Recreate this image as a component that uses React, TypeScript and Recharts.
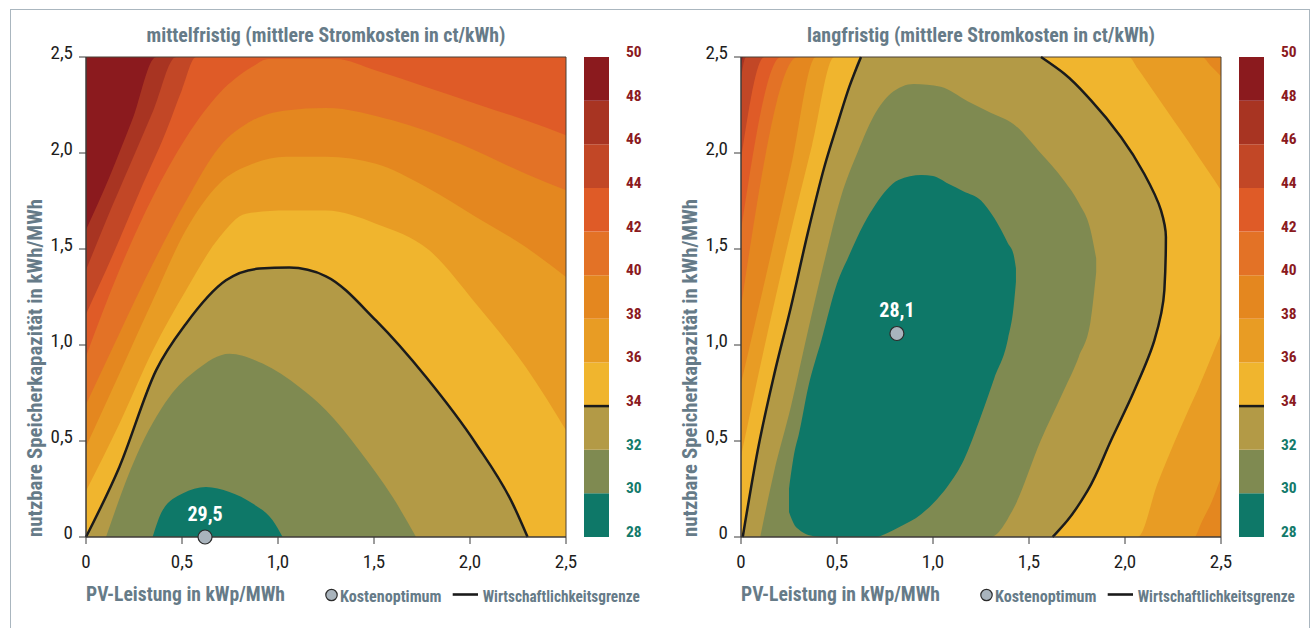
import React from "react";
import {
  ComposedChart,
  Area,
  Line,
  Scatter,
  XAxis,
  YAxis,
  ReferenceArea,
  BarChart,
  Bar,
  ReferenceLine,
} from "recharts";

const FONT = '"Liberation Sans Narrow", "Roboto Condensed", "DejaVu Sans Condensed", "Liberation Sans", sans-serif';
const LABEL = "#667b88";
const AXIS = "#3a3a3a";

// axis ticks (kWp/MWh and kWh/MWh)
const axisTicks = [0, 0.5, 1, 1.5, 2, 2.5];

// colour scale: lower bound of every 2 ct band and its colour
const bandLevels = [28, 30, 32, 34, 36, 38, 40, 42, 44, 46, 48];
const bandColors = [
  "#0e7868", "#7f8a51", "#b39a46", "#f0b52e", "#e89c24", "#e4871f",
  "#e37226", "#df5b27", "#c24726", "#a83422", "#8b1a1e",
];
const scaleTicks = [28, 30, 32, 34, 36, 38, 40, 42, 44, 46, 48, 50];
const limitLevel = 34;

// mittelfristig: upper edge of the area where cost < level  [x, y]
const mid50 = [[0, 2.5], [2.5, 2.5]];
const mid48 = [[0, 1.6], [0.12, 1.87], [0.24, 2.17], [0.365, 2.5], [2.5, 2.5]];
const mid46 = [[0, 1.39], [0.11, 1.66], [0.23, 1.94], [0.35, 2.22], [0.469, 2.5], [2.5, 2.5]];
const mid44 = [[0, 1.16], [0.14, 1.47], [0.28, 1.8], [0.42, 2.12], [0.5, 2.33], [0.573, 2.5], [2.5, 2.5]];
const mid42 = [[0, 0.94], [0.174, 1.39], [0.347, 1.77], [0.521, 2.08], [0.694, 2.31], [0.868, 2.45], [0.95, 2.49], [1.3, 2.49], [1.51, 2.43], [1.77, 2.344], [2.03, 2.257], [2.29, 2.17], [2.5, 2.092]];
const mid40 = [[0, 0.69], [0.174, 1.06], [0.347, 1.42], [0.521, 1.75], [0.694, 2.03], [0.868, 2.17], [1.042, 2.222], [1.25, 2.235], [1.597, 2.17], [1.944, 2.049], [2.29, 1.892], [2.5, 1.806]];
const mid38 = [[0, 0.47], [0.174, 0.85], [0.347, 1.23], [0.521, 1.6], [0.694, 1.84], [0.868, 1.944], [1.042, 1.98], [1.25, 1.98], [1.51, 1.944], [1.771, 1.823], [2.031, 1.667], [2.29, 1.51], [2.5, 1.354]];
const mid36 = [[0, 0.24], [0.174, 0.59], [0.347, 0.97], [0.521, 1.285], [0.694, 1.56], [0.833, 1.684], [1.042, 1.7], [1.25, 1.7], [1.51, 1.632], [1.788, 1.493], [2.031, 1.215], [2.29, 0.885], [2.5, 0.556]];
const mid34 = [[0, 0], [0.174, 0.365], [0.365, 0.868], [0.521, 1.111], [0.729, 1.337], [0.903, 1.398], [1.059, 1.403], [1.25, 1.358], [1.51, 1.128], [1.771, 0.833], [2.031, 0.486], [2.222, 0.174], [2.3, 0]];
const mid32 = [[0.104, 0], [0.26, 0.417], [0.434, 0.729], [0.573, 0.868], [0.747, 0.955], [0.92, 0.903], [1.111, 0.781], [1.25, 0.66], [1.424, 0.451], [1.597, 0.208], [1.719, 0]];
const mid30 = [[0.347, 0], [0.399, 0.139], [0.503, 0.226], [0.625, 0.26], [0.747, 0.234], [0.868, 0.174], [0.972, 0.087], [1.024, 0]];
const midOptimum = [{ x: 0.62, y: 0, label: "29,5" }];

// langfristig: area where cost < level  [x, low, high]
const long50 = [[0, 0, 2.5], [2.5, 0, 2.5]];
const long48 = [[0, 0, 2.45], [0.012, 0, 2.5], [2.5, 0, 2.5]];
const long46 = [[0, 0, 2.39], [0.026, 0, 2.5], [2.5, 0, 2.5]];
const long44 = [[0, 0, 1.97], [0.122, 0, 2.5], [2.5, 0, 2.5]];
const long42 = [[0, 0, 1.6], [0.208, 0, 2.5], [2.5, 0, 2.5]];
const long40 = [[0, 0, 1.2], [0.295, 0, 2.5], [2.5, 0, 2.5]];
const long38 = [[0, 0, 0.8], [0.13, 0, 1.36], [0.26, 0, 1.93], [0.39, 0, 2.5], [2.36, 0, 2.5], [2.4, 0.08, 2.5], [2.45, 0.18, 2.45], [2.5, 0.31, 2.4]];
const long36 = [[0, 0, 0.42], [0.12, 0, 0.98], [0.25, 0, 1.55], [0.37, 0, 2.04], [0.486, 0, 2.5], [2.02, 0, 2.5], [2.066, 0, 2.44], [2.17, 0.28, 2.29], [2.26, 0.5, 2.16], [2.33, 0.66, 2.06], [2.38, 0.77, 1.985], [2.465, 0.975, 1.86], [2.5, 1.06, 1.806]];
const long34 = [[0.009, 0, 0], [0.087, 0, 0.451], [0.174, 0, 0.851], [0.26, 0, 1.198], [0.347, 0, 1.58], [0.434, 0, 1.927], [0.503, 0, 2.153], [0.564, 0, 2.344], [0.625, 0, 2.5], [1.5625, 0, 2.5], [1.623, 0, 2.457], [1.684, 0.06, 2.413], [1.75, 0.16, 2.347], [1.823, 0.28, 2.274], [1.927, 0.503, 2.147], [2.049, 0.764, 1.97], [2.1, 0.87, 1.892], [2.153, 1.024, 1.78], [2.19, 1.17, 1.7], [2.205, 1.285, 1.63], [2.213, 1.42, 1.56]];
const long32 = [[0.1, 0, 0], [0.17, 0, 0.33], [0.26, 0, 0.68], [0.35, 0, 1.08], [0.43, 0, 1.42], [0.52, 0, 1.77], [0.61, 0, 2.01], [0.69, 0, 2.19], [0.78, 0, 2.31], [0.9, 0, 2.36], [1.04, 0, 2.345], [1.18, 0, 2.27], [1.3, 0, 2.21], [1.42, 0.15, 2.15], [1.56, 0.5, 2.0], [1.68, 0.76, 1.86], [1.76, 0.94, 1.74], [1.82, 1.12, 1.6], [1.85, 1.38, 1.45]];
const long30 = [[0.25, 0.13, 0.25], [0.28, 0.06, 0.45], [0.3, 0.04, 0.53], [0.35, 0.01, 0.78], [0.42, 0, 1.03], [0.5, 0, 1.32], [0.56, 0, 1.46], [0.64, 0, 1.63], [0.7, 0, 1.73], [0.76, 0.02, 1.81], [0.82, 0.05, 1.86], [0.94, 0.12, 1.885], [1.0, 0.175, 1.88], [1.08, 0.27, 1.84], [1.16, 0.4, 1.8], [1.25, 0.63, 1.753], [1.32, 0.83, 1.66], [1.39, 1.03, 1.53], [1.42, 1.2, 1.47], [1.432, 1.33, 1.4]];
const longLimitLeft = [[0.009, 0], [0.087, 0.451], [0.174, 0.851], [0.26, 1.198], [0.347, 1.58], [0.434, 1.927], [0.503, 2.153], [0.564, 2.344], [0.625, 2.5]];
const longLimitRight = [[1.5625, 2.5], [1.684, 2.413], [1.823, 2.274], [1.979, 2.083], [2.1, 1.892], [2.1875, 1.701], [2.213, 1.5625], [2.205, 1.285], [2.153, 1.024], [2.049, 0.764], [1.927, 0.503], [1.806, 0.243], [1.701, 0.087], [1.623, 0]];
const longOptimum = [{ x: 0.812, y: 1.06, label: "28,1" }];

const fmt = (v: number) => (v === 0 ? "0" : v.toFixed(1).replace(".", ","));
const colorOf = (level: number) => bandColors[(level - 30) / 2];

const toBand = (pts: number[][]) =>
  pts.map((p) => (p.length === 2 ? { x: p[0], band: [0, p[1]] } : { x: p[0], band: [p[1], p[2]] }));
const toLine = (pts: number[][]) => pts.map(([x, y]) => ({ x, y }));

const midRegions: [number, number[][]][] = [
  [50, mid50], [48, mid48], [46, mid46], [44, mid44], [42, mid42], [40, mid40],
  [38, mid38], [36, mid36], [34, mid34], [32, mid32], [30, mid30],
];
const longRegions: [number, number[][]][] = [
  [50, long50], [48, long48], [46, long46], [44, long44], [42, long42], [40, long40],
  [38, long38], [36, long36], [34, long34], [32, long32], [30, long30],
];

function XTick(p: any) {
  return (
    <text x={p.x} y={p.y + 22} textAnchor="middle" fontSize={19} fill="#1d1d1d">
      {fmt(p.payload.value)}
    </text>
  );
}

function YTick(p: any) {
  return (
    <text x={p.x} y={p.y + 2} textAnchor="end" fontSize={19} fill="#1d1d1d">
      {fmt(p.payload.value)}
    </text>
  );
}

function ScaleTick(p: any) {
  const v = p.payload.value;
  return (
    <text x={p.x} y={p.y} textAnchor="start" fontSize={15.5} fontWeight="bold" fill={v <= 32 ? "#137a6b" : "#8b1a1e"}>
      {v}
    </text>
  );
}

function Optimum(p: any) {
  const { cx, cy, payload } = p;
  return (
    <g>
      <circle cx={cx} cy={cy} r={7} fill="#a9b4bd" stroke="#2b2b2b" strokeWidth={1.2} />
      <text x={cx} y={cy - 16} textAnchor="middle" fill="#ffffff" fontSize={20} fontWeight="bold">
        {payload.label}
      </text>
    </g>
  );
}

// colour bar next to each panel
function ColorScale() {
  const row: Record<string, number | string> = { name: "scale", base: bandLevels[0] };
  bandLevels.forEach((l) => (row["b" + l] = 2));
  return (
    <BarChart width={100} height={628} data={[row]} margin={{ top: 57, right: 0, bottom: 91, left: 0 }} barCategoryGap={0}>
      <XAxis dataKey="name" type="category" hide />
      <YAxis
        orientation="right"
        type="number"
        domain={[28, 50]}
        allowDataOverflow
        ticks={scaleTicks}
        interval={0}
        width={75}
        axisLine={false}
        tickLine={false}
        tickSize={0}
        tickMargin={17}
        tick={<ScaleTick />}
      />
      <Bar dataKey="base" stackId="s" fill="none" isAnimationActive={false} />
      {bandLevels.map((l, i) => (
        <Bar key={l} dataKey={"b" + l} stackId="s" fill={bandColors[i]} isAnimationActive={false} />
      ))}
      <ReferenceLine y={limitLevel} stroke="#1b1b1b" strokeWidth={2.5} />
    </BarChart>
  );
}

function Panel({
  left,
  title,
  titleWidth,
  regions,
  limits,
  optimum,
}: {
  left: number;
  title: string;
  titleWidth: number;
  regions: [number, number[][]][];
  limits: { pts: number[][]; type: any }[];
  optimum: { x: number; y: number; label: string }[];
}) {
  return (
    <div style={{ position: "absolute", left, top: 0, width: 660, height: 628 }}>
      <ComposedChart width={600} height={628} margin={{ top: 57, right: 34, bottom: 51, left: 26 }}>
        <XAxis
          type="number"
          dataKey="x"
          domain={[0, 2.5]}
          ticks={axisTicks}
          interval={0}
          height={40}
          tickSize={7}
          tickMargin={2}
          axisLine={{ stroke: AXIS }}
          tickLine={{ stroke: AXIS }}
          tick={<XTick />}
        />
        <YAxis
          type="number"
          domain={[0, 2.5]}
          ticks={axisTicks}
          interval={0}
          width={60}
          tickSize={7}
          tickMargin={6}
          axisLine={{ stroke: AXIS }}
          tickLine={{ stroke: AXIS }}
          tick={<YTick />}
        />
        {regions.map(([level, pts]) => (
          <Area
            key={level}
            data={toBand(pts)}
            dataKey="band"
            type="monotone"
            stroke="none"
            fill={colorOf(level)}
            fillOpacity={1}
            dot={false}
            activeDot={false}
            isAnimationActive={false}
          />
        ))}
        {limits.map((l, i) => (
          <Line
            key={i}
            data={toLine(l.pts)}
            dataKey="y"
            type={l.type}
            stroke="#1b1b1b"
            strokeWidth={2.5}
            dot={false}
            activeDot={false}
            isAnimationActive={false}
          />
        ))}
        <ReferenceArea x1={0} x2={2.5} y1={0} y2={2.5} fill="none" stroke="#4a4036" strokeWidth={1} />
        <Scatter data={optimum} dataKey="y" shape={Optimum} isAnimationActive={false} />
      </ComposedChart>
      <div style={{ position: "absolute", left: 584, top: 0 }}>
        <ColorScale />
      </div>
      <svg width={660} height={628} style={{ position: "absolute", left: 0, top: 0, pointerEvents: "none" }}>
        <text x={326} y={42} textAnchor="middle" fontSize={20.5} fontWeight="bold" fill={LABEL} textLength={titleWidth} lengthAdjust="spacingAndGlyphs">
          {title}
        </text>
        <text x={86} y={601} fontSize={20} fontWeight="bold" fill={LABEL} textLength={199} lengthAdjust="spacingAndGlyphs">
          PV-Leistung in kWp/MWh
        </text>
        <text x={42} y={537} transform="rotate(-90 42 537)" fontSize={20} fontWeight="bold" fill={LABEL} textLength={338} lengthAdjust="spacingAndGlyphs">
          nutzbare Speicherkapazität in kWh/MWh
        </text>
        <circle cx={331.5} cy={595} r={5.7} fill="#a9b4bd" stroke="#2b2b2b" strokeWidth={1.2} />
        <text x={340} y={601.5} fontSize={16.5} fontWeight="bold" fill={LABEL} textLength={101.5} lengthAdjust="spacingAndGlyphs">
          Kostenoptimum
        </text>
        <line x1={452.7} x2={478} y1={594.5} y2={594.5} stroke="#1b1b1b" strokeWidth={2.6} />
        <text x={482.7} y={601.5} fontSize={16.5} fontWeight="bold" fill={LABEL} textLength={157} lengthAdjust="spacingAndGlyphs">
          Wirtschaftlichkeitsgrenze
        </text>
      </svg>
    </div>
  );
}

export default function App() {
  return (
    <div
      style={{
        position: "absolute",
        left: 0,
        top: 0,
        width: 1316,
        height: 628,
        background: "#ffffff",
        overflow: "hidden",
        fontFamily: FONT,
      }}
    >
      <div
        style={{
          position: "absolute",
          left: 10,
          top: 9,
          width: 1300,
          height: 640,
          border: "1.5px solid #aab6bf",
          boxSizing: "border-box",
        }}
      />
      <Panel
        left={0}
        title="mittelfristig (mittlere Stromkosten in ct/kWh)"
        titleWidth={359}
        regions={midRegions}
        limits={[{ pts: mid34, type: "monotone" }]}
        optimum={midOptimum}
      />
      <Panel
        left={655}
        title="langfristig (mittlere Stromkosten in ct/kWh)"
        titleWidth={348}
        regions={longRegions}
        limits={[
          { pts: longLimitLeft, type: "monotone" },
          { pts: longLimitRight, type: "monotoneY" },
        ]}
        optimum={longOptimum}
      />
    </div>
  );
}
